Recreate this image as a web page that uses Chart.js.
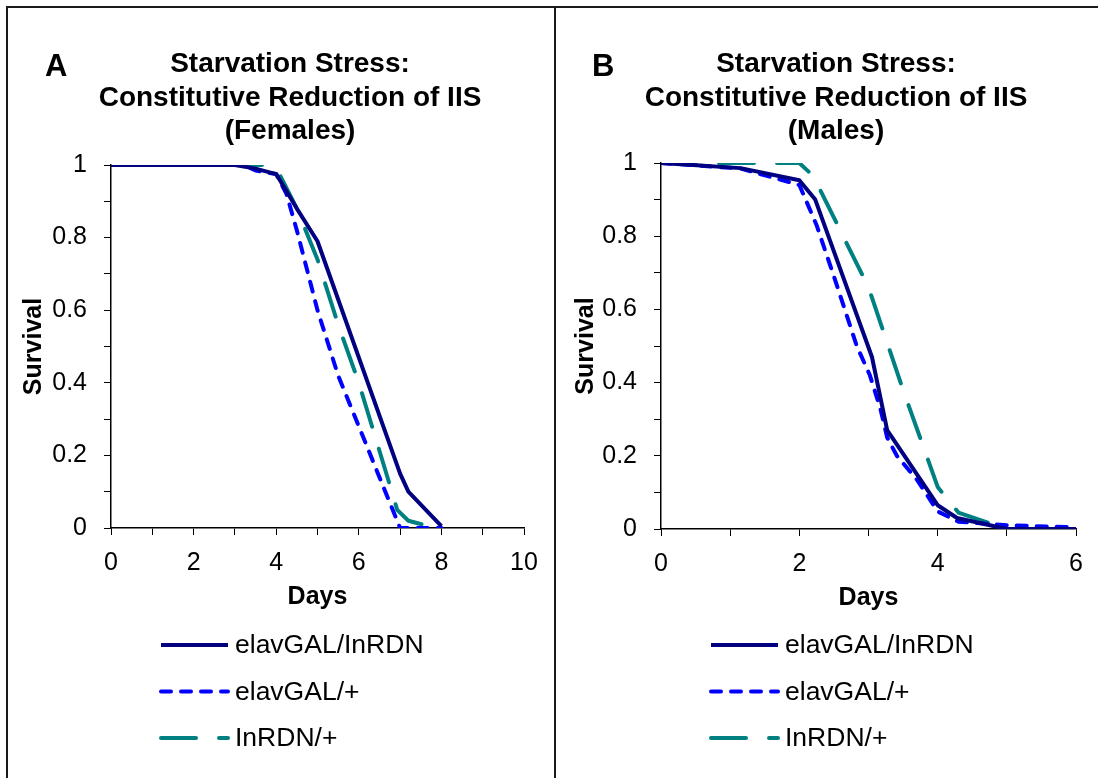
<!DOCTYPE html>
<html>
<head>
<meta charset="utf-8">
<script src="https://cdn.jsdelivr.net/npm/chart.js@4.4.1/dist/chart.umd.min.js"></script>
<style>
  body { margin: 0; background: #fff; }
  #page { position: relative; width: 1098px; height: 778px; overflow: hidden; background: #fff; }
  canvas { position: absolute; top: 0; }
  #chartA { left: 0; }
  #chartB { left: 555px; }
  .rule { position: absolute; background: #1a1a1a; }
</style>
</head>
<body>
<div id="page">
  <canvas id="chartA" width="555" height="778"></canvas>
  <canvas id="chartB" width="543" height="778"></canvas>
  <div class="rule" style="left:6px;top:6px;width:1092px;height:2px"></div>
  <div class="rule" style="left:6px;top:6px;width:2px;height:772px"></div>
  <div class="rule" style="left:554px;top:6px;width:2px;height:772px"></div>
</div>
<script>
// Females (panel A)
const femaleDaysInRDN = [0, 3, 3.5, 4, 4.5, 5, 7, 7.2, 8];
const femaleSurvInRDN = [1, 1, 0.99, 0.975, 0.88, 0.79, 0.15, 0.1, 0.005];
const femaleDaysElav = [0, 3.2, 3.5, 4, 4.25, 4.5, 5, 5.5, 6, 6.5, 7, 8];
const femaleSurvElav = [1, 1, 0.985, 0.975, 0.92, 0.82, 0.6, 0.42, 0.28, 0.14, 0, 0];
const femaleDaysRDN = [0, 3.8, 4.1, 4.5, 5, 5.5, 6, 6.4, 6.8, 6.93, 7.2, 7.7];
const femaleSurvRDN = [1, 1, 0.97, 0.88, 0.74, 0.56, 0.4, 0.25, 0.1, 0.05, 0.02, 0.005];

// Males (panel B)
const maleDaysInRDN = [0, 1.15, 2, 2.23, 3.05, 3.27, 4, 4.28, 5, 6];
const maleSurvInRDN = [1, 0.986, 0.953, 0.9, 0.47, 0.27, 0.065, 0.03, 0, 0];
const maleDaysElav = [0, 1.15, 2, 2.25, 2.5, 2.83, 3.02, 3.17, 3.27, 3.41, 3.7, 4, 4.3, 5, 6];
const maleSurvElav = [1, 0.985, 0.94, 0.83, 0.69, 0.5, 0.42, 0.33, 0.25, 0.2, 0.135, 0.048, 0.02, 0.01, 0.005];
const maleDaysRDN = [0, 2, 2.2, 3, 3.5, 4, 4.15, 4.3, 5, 6];
const maleSurvRDN = [1, 1, 0.965, 0.66, 0.38, 0.115, 0.08, 0.045, 0, 0];

const seriesLabels = ['elavGAL/InRDN', 'elavGAL/+', 'InRDN/+'];
const yTickLabels = ['0', '0.2', '0.4', '0.6', '0.8', '1'];

const FONT = '"Liberation Sans", Arial, Helvetica, sans-serif';
Chart.defaults.font.family = FONT;
Chart.defaults.color = '#000';

const zip = (xs, ys) => xs.map((x, i) => ({ x: x, y: ys[i] }));

function lineSet(label, days, surv, color, dash) {
  return {
    label: label,
    data: zip(days, surv),
    borderColor: color,
    backgroundColor: color,
    borderWidth: 4,
    borderDash: dash,
    borderCapStyle: dash.length ? 'round' : 'butt',
    borderJoinStyle: 'round',
    pointRadius: 0,
    tension: 0
  };
}

// titles, panel letter and stacked legend
const panelText = {
  id: 'panelText',
  afterDraw(chart, args, opts) {
    const ctx = chart.ctx;
    ctx.save();
    ctx.fillStyle = '#000';
    ctx.textBaseline = 'alphabetic';
    ctx.textAlign = 'left';
    ctx.font = 'bold 31px ' + FONT;
    ctx.fillText(opts.letter, opts.letterX, 76);
    ctx.textAlign = 'center';
    ctx.font = 'bold 28px ' + FONT;
    opts.title.forEach((line, i) => ctx.fillText(line, opts.titleX, 72 + i * 33.5));

    const x0 = chart.chartArea.left + 48;
    chart.data.datasets.forEach((ds, i) => {
      const y = 645 + i * 46.5;
      ctx.beginPath();
      ctx.strokeStyle = ds.borderColor;
      ctx.lineWidth = ds.borderWidth;
      ctx.lineCap = ds.borderCapStyle;
      ctx.setLineDash(ds.borderDash);
      ctx.moveTo(x0 + 2, y);
      ctx.lineTo(x0 + 69, y);
      ctx.stroke();
      ctx.setLineDash([]);
      ctx.textAlign = 'left';
      ctx.textBaseline = 'middle';
      ctx.font = '26.5px ' + FONT;
      ctx.fillText(ds.label, x0 + 76, y + 1);
    });
    ctx.restore();
  }
};

function makeChart(id, cfg) {
  const axisColor = '#000';
  return new Chart(document.getElementById(id), {
    type: 'line',
    data: {
      datasets: [
        lineSet(seriesLabels[0], cfg.navy[0], cfg.navy[1], '#000080', []),
        lineSet(seriesLabels[1], cfg.blue[0], cfg.blue[1], '#0000ff', [10, 10]),
        lineSet(seriesLabels[2], cfg.teal[0], cfg.teal[1], '#008080', [35, 23])
      ]
    },
    options: {
      responsive: false,
      animation: false,
      layout: { padding: cfg.padding },
      plugins: {
        legend: { display: false },
        tooltip: { enabled: false },
        panelText: { letter: cfg.letter, letterX: cfg.letterX, title: cfg.title, titleX: cfg.titleX }
      },
      scales: {
        x: {
          type: 'linear',
          min: 0,
          max: cfg.xMax,
          ticks: {
            stepSize: 1,
            autoSkip: false,
            maxRotation: 0,
            padding: 13,
            font: { size: 25 },
            callback: v => (v % 2 === 0 ? String(v) : '')
          },
          grid: { drawOnChartArea: false, tickLength: 7, color: axisColor, tickColor: axisColor },
          border: { color: axisColor, width: 1.5 },
          title: { display: true, text: 'Days', font: { size: 25, weight: 'bold' }, padding: { top: 0, bottom: 6 } },
          afterFit: s => { s.height = 90; }
        },
        y: {
          type: 'linear',
          min: 0,
          max: 1,
          ticks: {
            stepSize: 0.1,
            autoSkip: false,
            padding: 17,
            font: { size: 25 },
            callback: v => {
              const t = Math.round(v * 10);
              return t % 2 === 0 ? yTickLabels[t / 2] : '';
            }
          },
          grid: { drawOnChartArea: false, tickLength: 7, color: axisColor, tickColor: axisColor },
          border: { color: axisColor, width: 1.5 },
          title: { display: true, text: 'Survival', font: { size: 25, weight: 'bold' }, padding: { top: 3, bottom: 0 } },
          afterFit: s => { s.width = cfg.yWidth; }
        }
      }
    },
    plugins: [panelText]
  });
}

makeChart('chartA', {
  letter: 'A', letterX: 45, titleX: 290,
  title: ['Starvation Stress:', 'Constitutive Reduction of IIS', '(Females)'],
  xMax: 10, yWidth: 95,
  padding: { left: 16, right: 31, top: 165, bottom: 160 },
  navy: [femaleDaysInRDN, femaleSurvInRDN],
  blue: [femaleDaysElav, femaleSurvElav],
  teal: [femaleDaysRDN, femaleSurvRDN]
});

makeChart('chartB', {
  letter: 'B', letterX: 37, titleX: 281,
  title: ['Starvation Stress:', 'Constitutive Reduction of IIS', '(Males)'],
  xMax: 6, yWidth: 93,
  padding: { left: 13, right: 22, top: 163, bottom: 159 },
  navy: [maleDaysInRDN, maleSurvInRDN],
  blue: [maleDaysElav, maleSurvElav],
  teal: [maleDaysRDN, maleSurvRDN]
});
</script>
</body>
</html>
